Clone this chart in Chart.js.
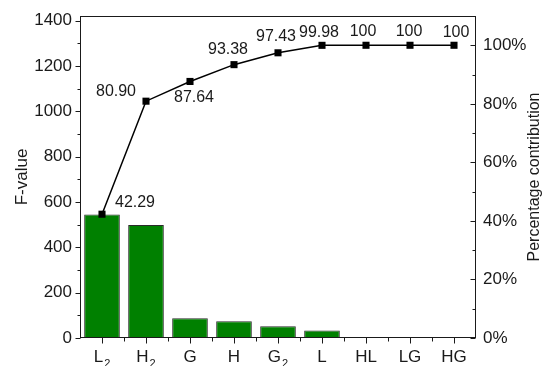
<!DOCTYPE html>
<html>
<head>
<meta charset="utf-8">
<script src="https://cdn.jsdelivr.net/npm/chart.js@4/dist/chart.umd.min.js"></script>
<style>
  html, body { margin: 0; padding: 0; background: #ffffff; }
  #wrap { width: 543px; height: 366px; }
</style>
</head>
<body>
<div id="wrap"><canvas id="c" width="543" height="366"></canvas></div>
<script>
// Factors, ordered by F-value ("_2" marks a subscript 2)
const categories = ['L_2', 'H_2', 'G', 'H', 'G_2', 'L', 'HL', 'LG', 'HG'];
// F-value of each factor (left axis)
const fValues = [545, 498, 87, 74, 52, 33, 0.3, 0.1, 0.05];
// Cumulative percentage contribution (right axis)
const cumulativePct = [42.29, 80.90, 87.64, 93.38, 97.43, 99.98, 100, 100, 100];
// Axis tick values
const fTicks = [0, 200, 400, 600, 800, 1000, 1200, 1400];
const pctTicks = [0, 20, 40, 60, 80, 100];
const rightTitle = 'Percentage contribution';

// Where each value label sits relative to its marker (dx, dy in px)
const labelOffsets = [
  [33, -12], [-30, -10], [4, 16], [-6, -15], [-2, -16],
  [-3, -13], [-3, -14], [-1, -14], [2, -13]
];

const FONT = '"Liberation Sans", Arial, "DejaVu Sans", sans-serif';
const INK = '#1a1a1a';
Chart.defaults.font.family = FONT;
Chart.defaults.color = INK;

function fmtPct(v) { return v === 100 ? '100' : v.toFixed(2); }

// Frame, tick marks (with minor ticks), category labels and right-hand title
const frameTicks = {
  id: 'frameTicks',
  afterDraw(chart) {
    const ctx = chart.ctx;
    const { left, right, top, bottom } = chart.chartArea;
    const xs = chart.scales.x, yl = chart.scales.y, yr = chart.scales.y1;
    const L = Math.round(left) + 0.5, R = Math.round(right) - 0.5;
    const T = Math.round(top) + 0.5, B = Math.round(bottom) - 0.5;
    ctx.save();
    ctx.strokeStyle = INK;
    ctx.lineWidth = 1;
    const seg = (x1, y1, x2, y2) => { ctx.beginPath(); ctx.moveTo(x1, y1); ctx.lineTo(x2, y2); ctx.stroke(); };
    ctx.strokeRect(L, T, R - L, B - T);
    // left axis: majors every 200, minors halfway, pointing out
    for (let i = 0; i < fTicks.length; i++) {
      const y = Math.round(yl.getPixelForValue(fTicks[i])) + 0.5;
      seg(L - 5, y, L, y);
      if (i < fTicks.length - 1) {
        const ym = Math.round(yl.getPixelForValue((fTicks[i] + fTicks[i + 1]) / 2)) + 0.5;
        seg(L - 3, ym, L, ym);
      }
    }
    // right axis: ticks point into the plot
    for (let i = 0; i < pctTicks.length; i++) {
      const y = Math.round(yr.getPixelForValue(pctTicks[i])) + 0.5;
      seg(R - 5, y, R, y);
      const next = i < pctTicks.length - 1 ? pctTicks[i + 1] : pctTicks[i] + 20;
      const ym = yr.getPixelForValue((pctTicks[i] + next) / 2);
      if (ym > top + 2) seg(R - 3, Math.round(ym) + 0.5, R, Math.round(ym) + 0.5);
    }
    // bottom axis: majors at categories, minors between them
    for (let i = 0; i < categories.length; i++) {
      const x = Math.round(xs.getPixelForValue(i)) + 0.5;
      seg(x, B, x, B + 6);
      if (i < categories.length - 1) {
        const xm = Math.round((xs.getPixelForValue(i) + xs.getPixelForValue(i + 1)) / 2) + 0.5;
        seg(xm, B, xm, B + 4);
      }
    }
    // category labels with subscripts
    ctx.fillStyle = INK;
    ctx.textBaseline = 'alphabetic';
    ctx.textAlign = 'left';
    const mainFont = '17px ' + FONT, subFont = '11px ' + FONT;
    categories.forEach((c, i) => {
      const [base, sub] = c.split('_');
      ctx.font = mainFont;
      const wb = ctx.measureText(base).width;
      ctx.font = subFont;
      const ws = sub ? ctx.measureText(sub).width + 1 : 0;
      const x0 = xs.getPixelForValue(i) - (wb + ws) / 2;
      const yb = bottom + 24;
      ctx.font = mainFont;
      ctx.fillText(base, x0, yb);
      if (sub) {
        ctx.font = subFont;
        ctx.fillText(sub, x0 + wb + 1, yb + 5);
      }
    });
    // right-hand axis title, reading bottom to top
    ctx.font = '16px ' + FONT;
    ctx.textAlign = 'center';
    ctx.textBaseline = 'middle';
    ctx.translate(535, (top + bottom) / 2);
    ctx.rotate(-Math.PI / 2);
    ctx.fillText(rightTitle, 0, 0);
    ctx.restore();
  }
};

// Value labels beside the cumulative markers
const valueLabels = {
  id: 'valueLabels',
  afterDatasetsDraw(chart) {
    const ctx = chart.ctx;
    const meta = chart.getDatasetMeta(1);
    ctx.save();
    ctx.font = '16px ' + FONT;
    ctx.fillStyle = INK;
    ctx.textAlign = 'center';
    ctx.textBaseline = 'middle';
    meta.data.forEach((pt, i) => {
      const [dx, dy] = labelOffsets[i];
      ctx.fillText(fmtPct(cumulativePct[i]), pt.x + dx, pt.y + dy);
    });
    ctx.restore();
  }
};

new Chart(document.getElementById('c'), {
  data: {
    labels: categories,
    datasets: [
      {
        type: 'bar',
        label: 'F-value',
        data: fValues,
        yAxisID: 'y',
        backgroundColor: '#008000',
        borderColor: '#2b2b2b',
        borderWidth: 1,
        barPercentage: 0.81,
        categoryPercentage: 1,
        order: 2
      },
      {
        type: 'line',
        label: rightTitle,
        data: cumulativePct,
        yAxisID: 'y1',
        borderColor: '#000000',
        borderWidth: 1.5,
        backgroundColor: '#000000',
        pointStyle: 'rect',
        pointRadius: 5,
        pointBorderWidth: 0,
        tension: 0,
        order: 1
      }
    ]
  },
  options: {
    responsive: false,
    animation: false,
    devicePixelRatio: 1,
    layout: { padding: { top: 16, left: 0, right: 0, bottom: 0 } },
    plugins: { legend: { display: false }, tooltip: { enabled: false } },
    scales: {
      x: {
        grid: { display: false },
        border: { display: false },
        ticks: { display: false },
        afterFit(s) { s.height = 28; }
      },
      y: {
        position: 'left',
        min: 0,
        max: 1420,
        grid: { display: true, drawOnChartArea: false, drawTicks: true, tickLength: 5, tickColor: 'rgba(0,0,0,0)' },
        border: { display: false },
        afterBuildTicks(s) { s.ticks = fTicks.map(v => ({ value: v })); },
        ticks: { font: { size: 17 }, padding: 3, callback: v => String(v) },
        title: { display: true, text: 'F-value', font: { size: 17, lineHeight: 1 }, padding: { top: 14, bottom: 0 } },
        afterFit(s) { s.width = 80; }
      },
      y1: {
        position: 'right',
        min: 0,
        max: 110,
        grid: { display: true, drawOnChartArea: false, drawTicks: true, tickLength: 4, tickColor: 'rgba(0,0,0,0)' },
        border: { display: false },
        afterBuildTicks(s) { s.ticks = pctTicks.map(v => ({ value: v })); },
        ticks: { font: { size: 17 }, padding: 3, callback: v => v + '%' },
        afterFit(s) { s.width = 67; }
      }
    }
  },
  plugins: [frameTicks, valueLabels]
});
</script>
</body>
</html>
